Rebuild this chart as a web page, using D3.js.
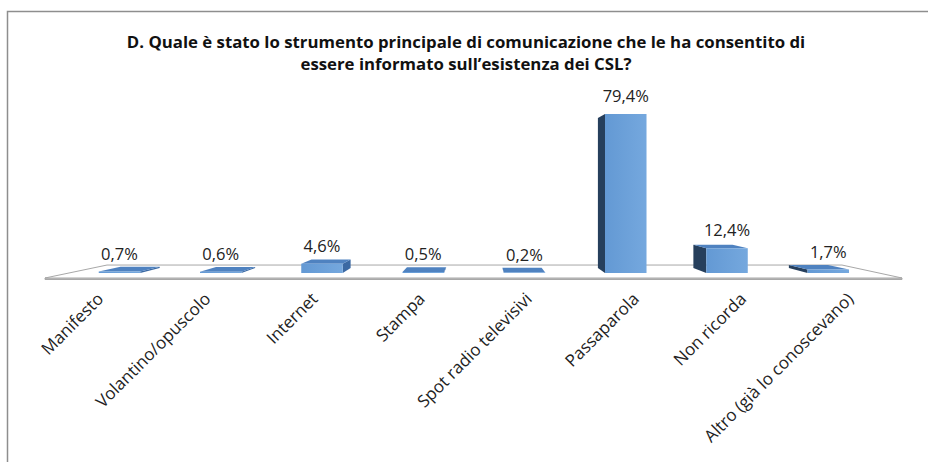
<!DOCTYPE html>
<html>
<head>
<meta charset="utf-8">
<script src="https://cdn.jsdelivr.net/npm/d3@7"></script>
<style>
  html, body { margin: 0; padding: 0; background: #fff; }
  svg { display: block; font-family: "Open Sans", sans-serif; }
</style>
</head>
<body>
<svg id="chart" width="928" height="462"></svg>
<script>
// Survey answers: main channel through which respondents heard about the CSL
const titleLines = [
  "D. Quale è stato lo strumento principale di comunicazione che le ha consentito di",
  "essere informato sull’esistenza dei CSL?"
];
const categories = [
  "Manifesto", "Volantino/opuscolo", "Internet", "Stampa",
  "Spot radio televisivi", "Passaparola", "Non ricorda", "Altro (già lo conoscevano)"
];
const values = [0.7, 0.6, 4.6, 0.5, 0.2, 79.4, 12.4, 1.7];

const W = 928, H = 462;
const svg = d3.select("#chart");

// Chart frame (only top and left edges fall inside the page)
svg.append("path")
  .attr("d", `M7.5,${H} V11.5 H${W}`)
  .attr("fill", "none").attr("stroke", "#8e8e8e").attr("stroke-width", 1.5);

// Title
svg.append("g").selectAll("text").data(titleLines).join("text")
  .attr("x", 466).attr("y", (d, i) => 48 + i * 22)
  .attr("text-anchor", "middle")
  .attr("font-weight", "bold").attr("font-size", 16.8).attr("fill", "#111")
  .text(d => d);

// Simple one-point perspective: front plane coordinates (X, Y) pushed back by depth Z
const floorY = 278;
const vp = { x: 480.5, y: 187 };
const floorDepth = 0.166, barZ0 = 0.058, barZ1 = 0.122;
function proj(X, Y, Z) {
  const k = 1 / (1 + Z);
  return [vp.x + (X - vp.x) * k, vp.y + (Y - vp.y) * k];
}
const poly = pts => "M" + pts.map(p => proj(...p).join(",")).join("L") + "Z";

const x = d3.scaleBand().domain(categories).range([45, 902])
  .paddingInner(0.59).paddingOuter(0.295);
const h = d3.scaleLinear().domain([0, 100]).range([0, 212]);

const defs = svg.append("defs");
const grad = defs.append("linearGradient").attr("id", "frontGrad")
  .attr("x1", "0%").attr("x2", "100%").attr("y1", "0%").attr("y2", "0%");
grad.append("stop").attr("offset", "0%").attr("stop-color", "#6399d4");
grad.append("stop").attr("offset", "100%").attr("stop-color", "#75a8de");

// Floor
const [fx0, fx1] = x.range();
const floor = svg.append("g");
floor.append("path")
  .attr("d", `M${fx0},${floorY}H${fx1}V${floorY + 1.5}H${fx0}Z`)
  .attr("fill", "#d4d4d4").attr("stroke", "#a8a8a8").attr("stroke-width", 1);
floor.append("path")
  .attr("d", poly([[fx0, floorY, 0], [fx1, floorY, 0], [fx1, floorY, floorDepth], [fx0, floorY, floorDepth]]))
  .attr("fill", "#fff").attr("stroke", "#a8a8a8").attr("stroke-width", 1);

// Bars
const bars = svg.append("g");
categories.forEach((c, i) => {
  const X0 = x(c), X1 = X0 + x.bandwidth();
  const Yb = floorY, Yt = floorY - h(values[i]);
  const g = bars.append("g");
  if (X1 < vp.x) {
    g.append("path")
      .attr("d", poly([[X1, Yb, barZ0], [X1, Yt, barZ0], [X1, Yt, barZ1], [X1, Yb, barZ1]]))
      .attr("fill", "#3b69a3");
  } else if (X0 > vp.x) {
    g.append("path")
      .attr("d", poly([[X0, Yb, barZ0], [X0, Yt, barZ0], [X0, Yt, barZ1], [X0, Yb, barZ1]]))
      .attr("fill", "#263f5c");
  }
  if (Yt > vp.y) {
    g.append("path")
      .attr("d", poly([[X0, Yt, barZ0], [X1, Yt, barZ0], [X1, Yt, barZ1], [X0, Yt, barZ1]]))
      .attr("fill", "#4f82c0");
  }
  g.append("path")
    .attr("d", poly([[X0, Yb, barZ0], [X1, Yb, barZ0], [X1, Yt, barZ0], [X0, Yt, barZ0]]))
    .attr("fill", "url(#frontGrad)");
});

// Value labels
const fmt = v => d3.format(".1f")(v).replace(".", ",") + "%";
svg.append("g").selectAll("text").data(categories).join("text")
  .attr("x", (c, i) => proj(x(c) + x.bandwidth() / 2, floorY - h(values[i]), barZ0)[0])
  .attr("y", (c, i) => proj(x(c) + x.bandwidth() / 2, floorY - h(values[i]), barZ0)[1] - 12)
  .attr("text-anchor", "middle").attr("font-size", 16.5).attr("fill", "#222")
  .text((c, i) => fmt(values[i]));

// Category labels, rotated
svg.append("g").selectAll("text").data(categories).join("text")
  .attr("transform", c => `translate(${x(c) + x.bandwidth() / 2 + 6},300) rotate(-45)`)
  .attr("text-anchor", "end").attr("font-size", 17).attr("fill", "#222")
  .text(c => c);
</script>
</body>
</html>
